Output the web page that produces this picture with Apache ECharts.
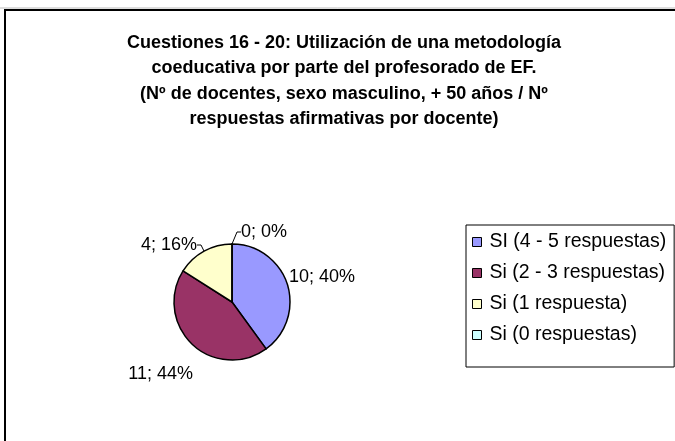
<!DOCTYPE html>
<html>
<head>
<meta charset="utf-8">
<script src="https://cdn.jsdelivr.net/npm/echarts@6/dist/echarts.min.js"></script>
<style>
  html, body { margin: 0; padding: 0; background: #fff; }
  #chart { width: 675px; height: 441px; }
</style>
</head>
<body>
<div id="chart"></div>
<script>
const categories = [
  'SI (4 - 5 respuestas)',
  'Si (2 - 3 respuestas)',
  'Si (1 respuesta)',
  'Si (0 respuestas)',
];
const values = [10, 11, 4, 0];
const colors = ['#9999ff', '#993366', '#ffffcc', '#ccffff'];

// where each label sits (label anchor point + alignment)
const labelSpots = [
  { x: 289, y: 277, align: 'left', line: false },
  { x: 193, y: 374, align: 'right', line: false },
  { x: 197, y: 245, align: 'right', line: true },
  { x: 241, y: 232, align: 'left', line: true },
];

const font = '"Liberation Sans", Arial, sans-serif';
const chart = echarts.init(document.getElementById('chart'));

chart.setOption({
  animation: false,
  backgroundColor: '#fff',
  color: colors,
  title: {
    text: 'Cuestiones 16 - 20: Utilización de una metodología\ncoeducativa por parte del profesorado de EF.\n(Nº de docentes, sexo masculino, + 50 años / Nº\nrespuestas afirmativas por docente)',
    left: 344,
    top: 30,
    padding: 0,
    textAlign: 'center',
    textStyle: {
      fontFamily: font,
      fontSize: 18,
      fontWeight: 'bold',
      lineHeight: 25.5,
      color: '#000',
    },
  },
  graphic: [
    {
      type: 'line',
      shape: { x1: 0, y1: 8, x2: 675, y2: 8 },
      style: { stroke: '#bbb', lineWidth: 1 },
      silent: true,
    },
    {
      type: 'rect',
      shape: { x: 5, y: 10, width: 720, height: 500 },
      style: { fill: 'none', stroke: '#000', lineWidth: 2 },
      silent: true,
    },
  ],
  legend: {
    orient: 'vertical',
    left: 466,
    top: 225,
    padding: [6, 8, 21, 6],
    itemGap: 9,
    itemWidth: 9,
    itemHeight: 9,
    icon: 'rect',
    borderColor: '#000',
    borderWidth: 1,
    itemStyle: { borderColor: '#000', borderWidth: 1 },
    textStyle: {
      fontFamily: font,
      fontSize: 19.5,
      lineHeight: 22,
      color: '#000',
      padding: [0, 0, 0, 3],
    },
    data: categories,
  },
  series: [
    {
      type: 'pie',
      center: [232, 302],
      radius: 58,
      startAngle: 90,
      clockwise: true,
      avoidLabelOverlap: false,
      itemStyle: { borderColor: '#000', borderWidth: 1.5 },
      emphasis: { disabled: true },
      label: {
        show: true,
        position: 'outside',
        formatter: '{c}; {d}%',
        fontFamily: font,
        fontSize: 18,
        color: '#000',
      },
      labelLine: {
        show: true,
        length: 6,
        length2: 4,
        lineStyle: { color: '#000', width: 1 },
      },
      labelLayout: (params) => {
        const s = labelSpots[params.dataIndex];
        return {
          x: s.x,
          y: s.y,
          align: s.align,
          verticalAlign: 'middle',
        };
      },
      data: categories.map((name, i) => ({
        name,
        value: values[i],
        labelLine: { show: labelSpots[i].line },
      })),
    },
  ],
});
</script>
</body>
</html>
